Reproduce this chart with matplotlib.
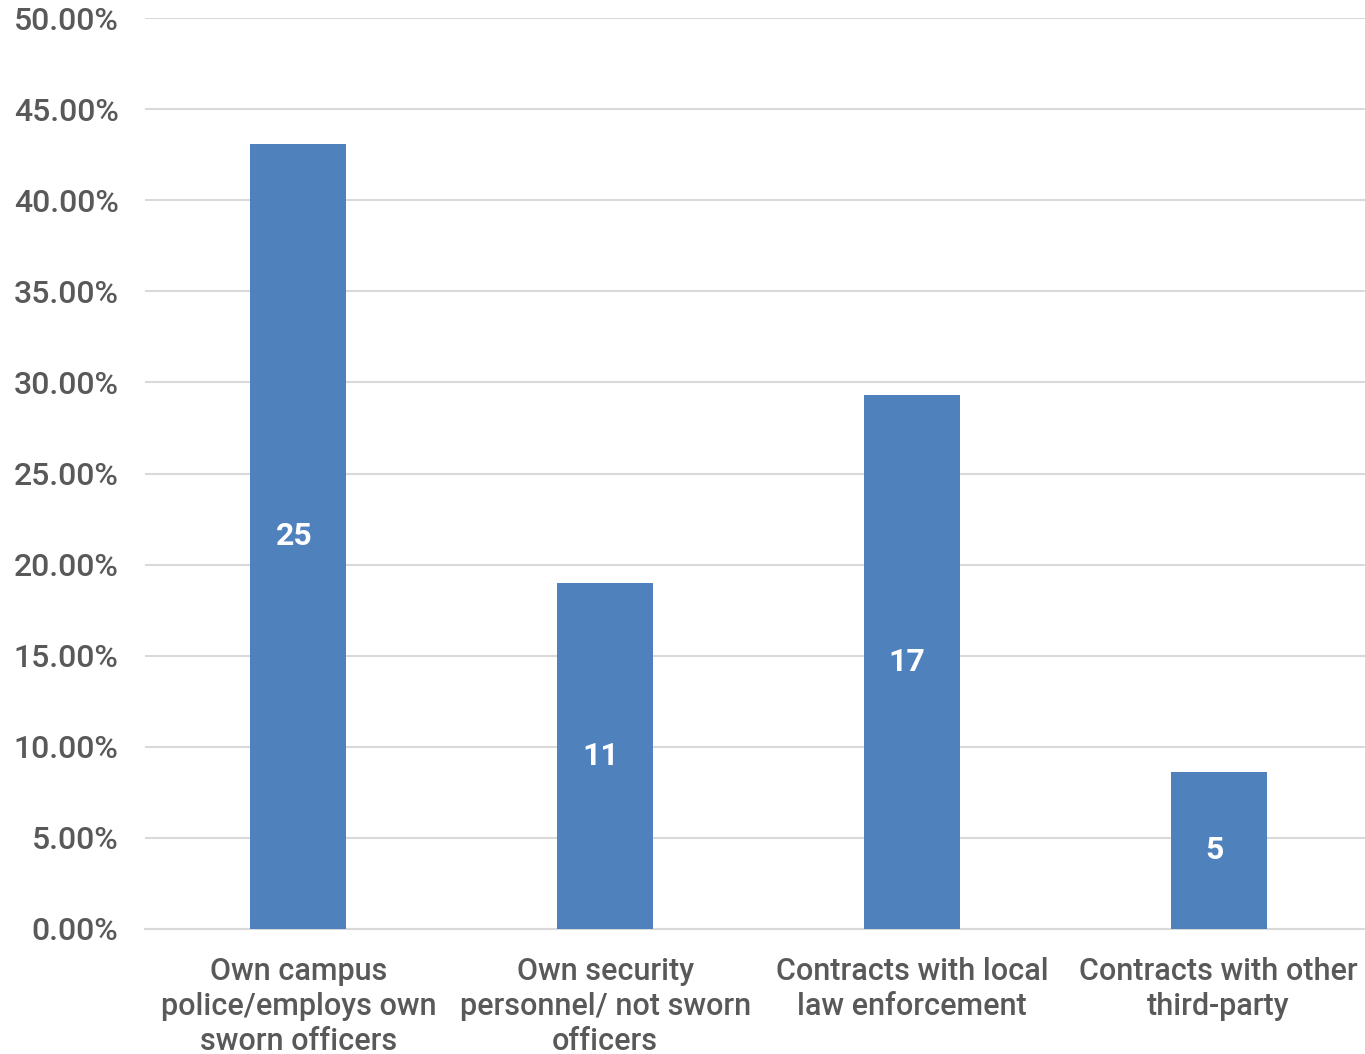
import matplotlib
matplotlib.use("Agg")
import matplotlib.pyplot as plt
from matplotlib.ticker import PercentFormatter

# data
categories = ["Own campus\npolice/employs own\nsworn officers",
              "Own security\npersonnel/ not sworn\nofficers",
              "Contracts with local\nlaw enforcement",
              "Contracts with other\nthird-party"]
counts = [25, 11, 17, 5]
total = sum(counts)
shares = [c / total * 100 for c in counts]

plt.rcParams['font.family'] = ['Roboto', 'DejaVu Sans']
gray = '#595959'

fig = plt.figure(figsize=(13.65, 10.54), dpi=100)
ax = fig.add_axes([145 / 1365, 1 - 929 / 1054, 1227 / 1365, 911 / 1054])

x = range(len(categories))
bars = ax.bar(x, shares, width=0.313, color='#4f81bd', zorder=3)

for b, c in zip(bars, counts):
    ax.text(b.get_x() + b.get_width() / 2 - 0.015, b.get_height() / 2, str(c),
            ha='center', va='center', color='white', fontsize=23,
            fontweight='bold', zorder=4)

ax.set_xlim(-0.5, 3.5)
ax.set_ylim(0, 50)
ax.set_yticks(range(0, 51, 5))
ax.yaxis.set_major_formatter(PercentFormatter(decimals=2))
ax.set_xticks(list(x))
ax.set_xticklabels(categories, linespacing=1.27)

ax.grid(axis='y', color='#d9d9d9', linewidth=1.5, zorder=0)
for s in ['top', 'right', 'left']:
    ax.spines[s].set_visible(False)
ax.spines['bottom'].set_color('#d9d9d9')
ax.spines['bottom'].set_linewidth(1.5)

ax.tick_params(axis='both', length=0, labelcolor=gray)
ax.tick_params(axis='y', pad=19, labelsize=23)
ax.tick_params(axis='x', pad=20, labelsize=22)
for lab in ax.get_xticklabels() + ax.get_yticklabels():
    lab.set_fontweight('medium')

fig.savefig("out.png", dpi=100)
